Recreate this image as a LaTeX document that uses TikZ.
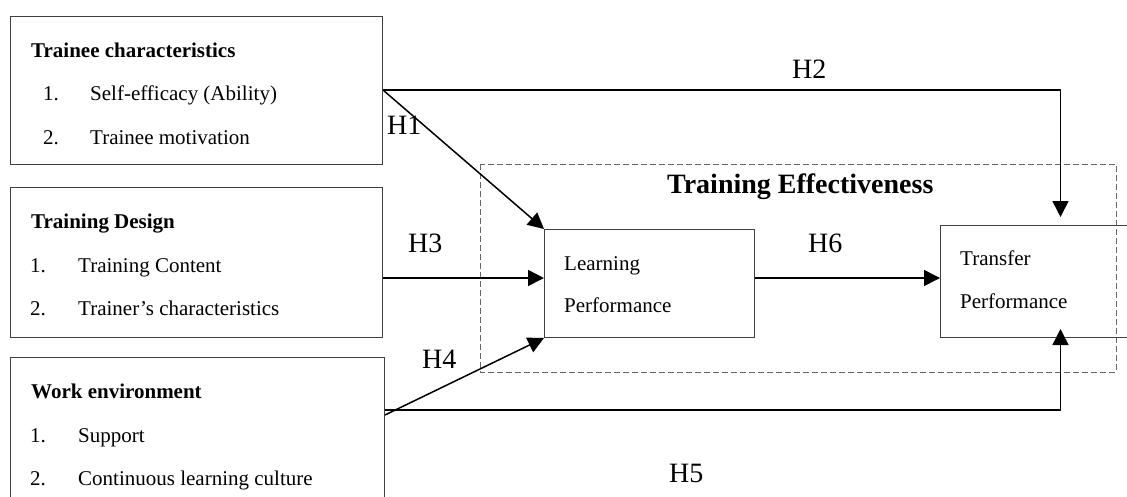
\documentclass[tikz,border=0pt]{standalone}
\usepackage{fontspec}
\setmainfont{Liberation Serif}
\usetikzlibrary{arrows.meta,calc}

\tikzset{
  box/.style={draw=black!75, line width=1pt, inner sep=0pt, anchor=north west},
  txt/.style={anchor=base west, inner sep=0pt, font=\fontsize{21}{24}\selectfont},
  ttl/.style={txt, font=\fontsize{21}{24}\selectfont\bfseries},
  hyp/.style={anchor=base west, inner sep=0pt, font=\fontsize{28}{32}\selectfont},
  conn/.style={line width=1.5pt, black},
  arr/.style={conn, -{Triangle[length=16pt,width=16pt]}},
  region/.style={draw=black!60, line width=1pt, dash pattern=on 6pt off 3pt},
}

\begin{document}
\begin{tikzpicture}[x=1pt,y=-1pt]
\useasboundingbox (0,0) rectangle (1127,496);
\clip (0,0) rectangle (1127,496);

% training effectiveness region
\draw[region] (480,164) rectangle (1116,372);
\node[anchor=base west, inner sep=0pt, font=\fontsize{28}{32}\selectfont\bfseries] (te) at (667,193) {Training Effectiveness};

% antecedent boxes
\node[box, minimum width=372pt, minimum height=148pt] (tc) at (10,16) {};
\node[ttl] (tct) at (31,57) {Trainee characteristics};
\node[txt] (tcn1) at (43,100) {1.};
\node[txt] (tci1) at (90,100) {Self-efficacy (Ability)};
\node[txt] (tcn2) at (43,144) {2.};
\node[txt] (tci2) at (90,144) {Trainee motivation};

\node[box, minimum width=372pt, minimum height=150pt] (td) at (10,187) {};
\node[ttl] (tdt) at (31,228) {Training Design};
\node[txt] (tdn1) at (30,272) {1.};
\node[txt] (tdi1) at (78,272) {Training Content};
\node[txt] (tdn2) at (30,315) {2.};
\node[txt] (tdi2) at (78,315) {Trainer’s characteristics};

\node[box, minimum width=374pt, minimum height=160pt] (we) at (10,357) {};
\node[ttl] (wet) at (31,398) {Work environment};
\node[txt] (wen1) at (30,442) {1.};
\node[txt] (wei1) at (78,442) {Support};
\node[txt] (wen2) at (30,485) {2.};
\node[txt] (wei2) at (78,485) {Continuous learning culture};

% outcome boxes
\node[box, minimum width=210pt, minimum height=108pt] (lp) at (544,229) {};
\node[txt] (lpt1) at (564,270) {Learning};
\node[txt] (lpt2) at (564,312) {Performance};

\node[box, minimum width=240pt, minimum height=112pt] (tp) at (940,225) {};
\node[txt] (tpt1) at (960,265) {Transfer};
\node[txt] (tpt2) at (960,308) {Performance};

% hypothesised paths
\coordinate (h1s) at (tc.east |- 0,90);
\coordinate (h4s) at (we.east |- 0,415);
\coordinate (h5s) at (we.east |- 0,410);

\draw[arr] (h1s) -- (lp.north west);
\draw[arr, shorten >=8pt] (h1s) -| (tp.north);
\draw[arr] (td.east |- 0,278) -- (lp.west |- 0,278);
\draw[arr] (h4s) -- (lp.south west);
\draw[arr, shorten >=-9pt] (h5s) -| (tp.south);
\draw[arr] (lp.east |- 0,278) -- (tp.west |- 0,278);

% path labels
\node[hyp] (l1) at (387,134) {H1};
\node[hyp] (l2) at (792,78) {H2};
\node[hyp] (l3) at (408,252) {H3};
\node[hyp] (l4) at (422,368) {H4};
\node[hyp] (l5) at (669,482) {H5};
\node[hyp] (l6) at (808,252) {H6};
\end{tikzpicture}
\end{document}
